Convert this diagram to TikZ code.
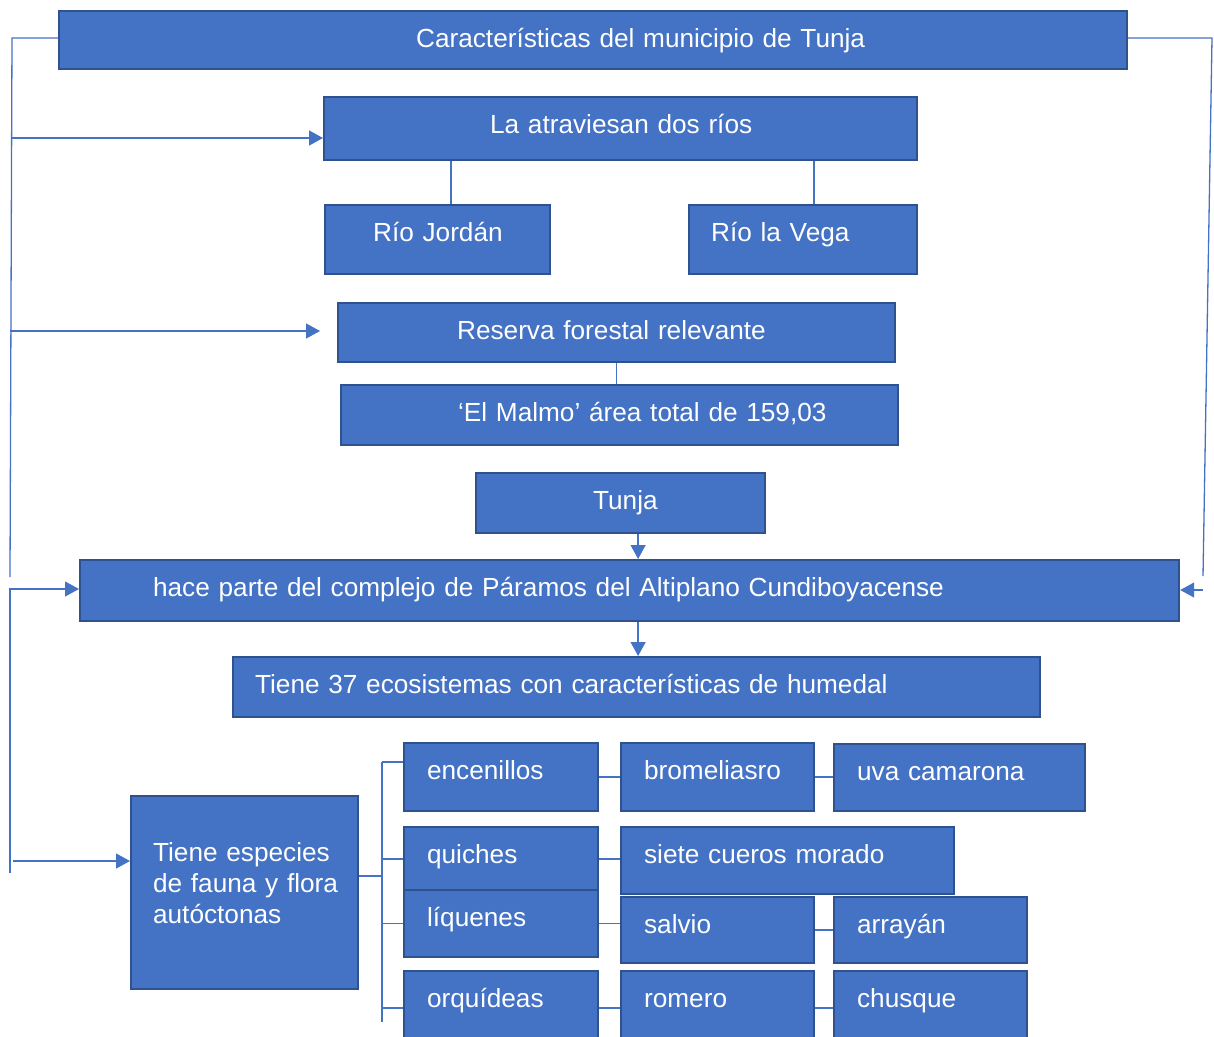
\documentclass[tikz,border=0pt]{standalone}
\usepackage{fontspec}
\setmainfont{Liberation Sans}
\usepackage{tikz}
\definecolor{azul}{RGB}{68,114,196}
\definecolor{borde}{RGB}{47,82,143}
\usetikzlibrary{arrows.meta}
\tikzset{
  caja/.style n args={3}{rectangle, anchor=north west, draw=borde, line width=2.2pt,
    fill=azul, text=white, font=\fontsize{26.2}{31}\selectfont, inner sep=0pt,
    align=left, text width=#1pt, text height=36pt, text depth=#2pt-36pt,
    execute at begin node={\leftskip=#3pt}},% caja azul, texto blanco
  linea/.style = {draw=azul, line width=1.3pt},
  flecha/.style = {linea, -{Triangle[length=14pt,width=15pt]}},
}
\begin{document}
\begin{tikzpicture}[x=1pt,y=-1pt]
  \useasboundingbox (0,0) rectangle (1214,1036);

  \node[caja={1068}{58}{357}] (tit) at (58,10) {Características del municipio de Tunja};
  \node[caja={593}{63}{166}] (rios) at (323,96) {La atraviesan dos ríos};
  \node[caja={225}{69}{48}] (jor) at (324,204) {Río Jordán};
  \node[caja={228}{69}{22}] (vega) at (688,204) {Río la Vega};
  \node[caja={557}{59}{119}] (res) at (337,302) {Reserva forestal relevante};
  \node[caja={557}{60}{117}] (mal) at (340,384) {‘El Malmo’ área total de 159,03};
  \node[caja={289}{60}{117}] (tun) at (475,472) {Tunja};
  \node[caja={1099}{61}{73}] (hp) at (79,559) {hace parte del complejo de Páramos del Altiplano Cundiboyacense};
  \node[caja={807}{60}{22}] (t37) at (232,656) {Tiene 37 ecosistemas con características de humedal};
  \node[caja={227}{193}{22}, text height=65pt, text depth=128pt] (esp) at (130,795)
    {Tiene especies\\de fauna y flora\\autóctonas};

  % especies
  \node[caja={194}{68}{23}] (enc) at (403,742) {encenillos};
  \node[caja={193}{68}{23}] (bro) at (620,742) {bromeliasro};
  \node[caja={251}{67}{23}] (uva) at (833,743) {uva camarona};
  \node[caja={194}{64}{23}] (qui) at (403,826) {quiches};
  \node[caja={333}{67}{23}] (sie) at (620,826) {siete cueros morado};
  \node[caja={194}{67}{23}] (liq) at (403,889) {líquenes};
  \node[caja={193}{66}{23}] (sal) at (620,896) {salvio};
  \node[caja={193}{66}{23}] (arr) at (833,896) {arrayán};
  \node[caja={194}{74}{23}] (orq) at (403,970) {orquídeas};
  \node[caja={193}{74}{23}] (rom) at (620,970) {romero};
  \node[caja={193}{74}{23}] (chu) at (833,970) {chusque};

  % lado izquierdo
  \coordinate (i0) at (12,38);
  \coordinate (i1) at (10,577);
  \coordinate (i2) at (10,589);
  \coordinate (i3) at (10,873);
  \coordinate (a1) at (12,138);
  \coordinate (a2) at (10,331);
  \coordinate (a2f) at (320,331);
  \coordinate (a3) at (13,861);
  \draw[linea] (tit.west |- i0) -- (i0) -- (i1);
  \draw[flecha] (a1) -- (rios.west |- a1);
  \draw[flecha] (a2) -- (a2f);
  \draw[flecha] (i3) -- (i2) -- (hp.west |- i2);
  \draw[flecha] (a3) -- (esp.west |- a3);

  % lado derecho
  \coordinate (d0) at (1212,38);
  \coordinate (d1) at (1203,576);
  \coordinate (d2) at (1203,590);
  \draw[linea] (tit.east |- d0) -- (d0) -- (d1);
  \draw[flecha] (d2) -- (hp.east |- d2);

  % rios, reserva, tunja
  \draw[linea] ([xshift=13.5pt]jor.north) -- ([xshift=13.5pt]jor.north |- rios.south);
  \draw[linea] ([xshift=11pt]vega.north) -- ([xshift=11pt]vega.north |- rios.south);
  \draw[linea] (res.south) -- (res.south |- mal.north);
  \draw[flecha] ([xshift=17.5pt]tun.south) -- ([xshift=17.5pt]tun.south |- hp.north);
  \draw[flecha] ([xshift=8.5pt]hp.south) -- ([xshift=8.5pt]hp.south |- t37.north);

  % ramas de especies
  \coordinate (r0) at (382,762);
  \coordinate (r1) at (382,1022);
  \coordinate (rm) at (382,876);
  \draw[linea] (r0) -- (r1);
  \draw[linea] (esp.east |- rm) -- (rm);
  \draw[linea] (r0) -- (enc.west |- r0);
  \draw[linea] (r0 |- qui.west) -- (qui.west);
  \draw[linea] (r0 |- liq.west) -- (liq.west);
  \draw[linea] (r0 |- orq.west) -- (orq.west);
  \draw[linea] (enc.east) -- (enc.east -| bro.west);
  \draw[linea] (bro.east) -- (bro.east -| uva.west);
  \draw[linea] (qui.east) -- (qui.east -| sie.west);
  \draw[linea] (liq.east) -- (liq.east -| sal.west);
  \draw[linea] (sal.east) -- (sal.east -| arr.west);
  \draw[linea] (orq.east) -- (orq.east -| rom.west);
  \draw[linea] (rom.east) -- (rom.east -| chu.west);
\end{tikzpicture}
\end{document}
